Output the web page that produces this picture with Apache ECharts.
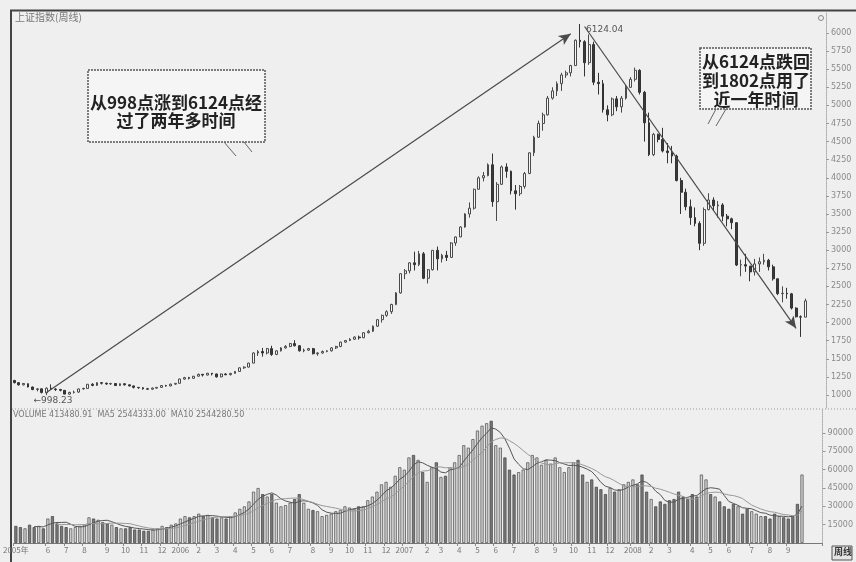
<!DOCTYPE html>
<html><head><meta charset="utf-8">
<script src="https://cdn.jsdelivr.net/npm/echarts@6/dist/echarts.min.js"></script>
<style>html,body{margin:0;padding:0;background:#efefef}#c{width:856px;height:562px}</style>
</head><body><div id="c"></div>
<script>
// ---- week categories (Monday of each trading week) ----
const weeks2005 = ['04-11','04-18','04-25','05-09','05-16','05-23','05-30','06-06','06-13','06-20','06-27','07-04','07-11','07-18','07-25','08-01','08-08','08-15','08-22','08-29','09-05','09-12','09-19','09-26','10-10','10-17','10-24','10-31','11-07','11-14','11-21','11-28','12-05','12-12','12-19','12-26'];
const weeks2006 = ['01-02','01-09','01-16','01-23','02-06','02-13','02-20','02-27','03-06','03-13','03-20','03-27','04-03','04-10','04-17','04-24','05-08','05-15','05-22','05-29','06-05','06-12','06-19','06-26','07-03','07-10','07-17','07-24','07-31','08-07','08-14','08-21','08-28','09-04','09-11','09-18','09-25','10-09','10-16','10-23','10-30','11-06','11-13','11-20','11-27','12-04','12-11','12-18','12-25'];
const weeks2007 = ['01-01','01-08','01-15','01-22','01-29','02-05','02-12','02-26','03-05','03-12','03-19','03-26','04-02','04-09','04-16','04-23','05-07','05-14','05-21','05-28','06-04','06-11','06-18','06-25','07-02','07-09','07-16','07-23','07-30','08-06','08-13','08-20','08-27','09-03','09-10','09-17','09-24','10-08','10-15','10-22','10-29','11-05','11-12','11-19','11-26','12-03','12-10','12-17','12-24','12-31'];
const weeks2008 = ['01-07','01-14','01-21','01-28','02-04','02-11','02-18','02-25','03-03','03-10','03-17','03-24','03-31','04-07','04-14','04-21','04-28','05-05','05-12','05-19','05-26','06-02','06-09','06-16','06-23','06-30','07-07','07-14','07-21','07-28','08-04','08-11','08-18','08-25','09-01','09-08','09-15','09-22'];

// ---- weekly candles [open, close, low, high] ----
const k2005 = [[1200,1170,1160,1210],[1170,1140,1130,1178],[1140,1159,1131,1165],[1155,1110,1105,1160],[1110,1075,1066,1115],[1075,1085,1050,1093],[1085,1035,1020,1090],[1030,1093,998,1105],[1093,1082,1070,1146],[1082,1075,1055,1095],[1075,1064,1050,1085],[1064,1012,1010,1068],[1012,1035,1004,1045],[1035,1040,1020,1060],[1040,1083,1030,1088],[1083,1090,1075,1100],[1090,1148,1088,1150],[1148,1132,1120,1163],[1132,1170,1125,1175],[1170,1162,1145,1178],[1162,1152,1140,1170],[1152,1158,1140,1168],[1158,1130,1124,1165],[1130,1155,1125,1158],[1155,1140,1130,1162],[1140,1125,1118,1145],[1125,1105,1090,1130],[1105,1100,1085,1110],[1100,1085,1074,1108],[1085,1080,1075,1098],[1080,1095,1072,1102],[1095,1105,1085,1110],[1105,1130,1100,1135],[1130,1125,1115,1140],[1125,1150,1120,1155],[1150,1161,1140,1165]];
const k2006 = [[1161,1220,1160,1225],[1220,1240,1210,1250],[1240,1230,1215,1250],[1230,1259,1225,1262],[1259,1285,1255,1296],[1285,1275,1255,1290],[1275,1300,1270,1305],[1300,1290,1270,1302],[1290,1250,1240,1295],[1250,1290,1245,1295],[1290,1280,1272,1300],[1280,1298,1270,1305],[1298,1325,1295,1330],[1325,1375,1320,1380],[1375,1385,1360,1395],[1385,1440,1380,1445],[1440,1580,1440,1590],[1580,1600,1540,1620],[1600,1580,1530,1650],[1580,1640,1560,1650],[1640,1560,1540,1680],[1560,1610,1550,1615],[1610,1650,1600,1660],[1650,1670,1640,1690],[1670,1710,1660,1720],[1710,1680,1670,1757],[1680,1610,1600,1690],[1610,1620,1590,1640],[1620,1640,1610,1650],[1640,1570,1560,1650],[1570,1580,1542,1590],[1580,1600,1570,1615],[1600,1610,1590,1620],[1610,1650,1600,1660],[1650,1670,1635,1680],[1670,1730,1660,1735],[1730,1752,1720,1760],[1752,1770,1745,1785],[1770,1800,1760,1810],[1800,1790,1765,1820],[1790,1860,1785,1870],[1860,1880,1850,1900],[1880,1950,1870,1960],[1950,2040,1940,2050],[2040,2100,2000,2110],[2100,2150,2080,2170],[2150,2250,2120,2260],[2250,2410,2240,2420],[2410,2675,2400,2680]];
const k2007 = [[2675,2715,2600,2740],[2715,2825,2680,2835],[2825,2800,2720,2980],[2800,2950,2780,2990],[2950,2612,2600,2975],[2612,2730,2540,2740],[2730,2998,2720,3000],[2998,2881,2720,3050],[2881,2930,2830,2950],[2930,2900,2850,2990],[2900,3100,2900,3110],[3100,3183,3060,3190],[3183,3320,3180,3330],[3320,3500,3310,3510],[3500,3580,3450,3660],[3580,3841,3560,3850],[3841,4000,3840,4020],[4000,4030,3950,4080],[4030,4180,4020,4200],[4180,3670,3600,4335],[3670,3910,3404,3940],[3910,4150,3900,4170],[4150,4090,4000,4200],[4090,3820,3770,4100],[3820,3780,3560,3900],[3780,3880,3750,3900],[3880,4060,3850,4080],[4060,4345,4050,4350],[4345,4560,4300,4580],[4560,4750,4550,4790],[4750,4870,4650,4900],[4870,5100,4860,5130],[5100,5200,5080,5250],[5200,5300,5130,5330],[5300,5420,5200,5450],[5420,5450,5380,5480],[5450,5550,5400,5560],[5550,5900,5550,5910],[5900,5880,5800,6124],[5880,5590,5400,5900],[5590,5840,5560,5980],[5840,5320,5280,5880],[5320,5300,5150,5450],[5300,4940,4900,5350],[4940,4870,4780,5000],[4870,5090,4850,5110],[5090,4980,4920,5130],[4980,5100,4900,5130],[5100,5250,5080,5280],[5250,5360,5240,5390]];
const k2008 = [[5360,5484,5330,5522],[5484,5180,5150,5500],[5180,4760,4500,5200],[4760,4320,4300,4900],[4320,4600,4300,4620],[4600,4530,4490,4610],[4530,4370,4350,4690],[4370,4348,4200,4480],[4348,4300,4200,4440],[4300,3962,3950,4320],[3962,3800,3500,4000],[3800,3600,3550,3850],[3600,3450,3350,3700],[3450,3370,3330,3590],[3370,3095,3000,3400],[3095,3560,3060,3590],[3560,3693,3550,3786],[3693,3613,3550,3730],[3613,3625,3450,3680],[3625,3470,3400,3650],[3470,3433,3330,3500],[3433,3380,3290,3450],[3380,2795,2780,3380],[2795,2800,2640,2870],[2800,2780,2700,2950],[2780,2700,2570,2780],[2700,2810,2650,2880],[2810,2840,2700,2900],[2840,2860,2800,2950],[2860,2770,2720,2880],[2770,2605,2580,2800],[2605,2400,2380,2610],[2400,2405,2280,2500],[2405,2397,2330,2480],[2397,2200,2180,2410],[2200,2080,2070,2210],[2080,2075,1802,2100],[2075,2300,2075,2330]];

// ---- weekly volume ----
const v2005 = [14000,13000,12000,15000,13000,14000,12000,20000,22000,16000,14000,13000,12000,13000,14000,15000,21000,20000,19000,17000,16000,15000,13000,12000,12000,13000,11000,11000,10000,10000,11000,12000,14000,13000,15000,16000];
const v2006 = [20000,22000,21000,22000,24000,22000,23000,21000,20000,21000,20000,22000,25000,28000,30000,34000,42000,45000,40000,38000,40000,33000,30000,31000,33000,36000,40000,33000,28000,27000,26000,22000,23000,24000,26000,27000,30000,29000,28000,30000,30000,35000,38000,42000,48000,50000,46000,55000,62000];
const v2007 = [60000,70000,72000,68000,58000,50000,62000,66000,54000,55000,62000,66000,72000,80000,78000,85000,92000,96000,98000,100000,80000,78000,70000,60000,56000,58000,60000,66000,72000,70000,64000,68000,65000,70000,62000,58000,62000,66000,68000,56000,50000,52000,46000,44000,40000,45000,42000,44000,48000,50000];
const v2008 = [52000,48000,56000,42000,36000,30000,34000,32000,35000,36000,42000,38000,36000,40000,38000,56000,52000,40000,38000,34000,30000,28000,32000,30000,24000,28000,26000,24000,22000,22000,20000,24000,22000,21000,20000,22000,32000,56000];

// ---- axis tick labels ----
const priceTicks = [1000,1250,1500,1750,2000,2250,2500,2750,3000,3250,3500,3750,4000,4250,4500,4750,5000,5250,5500,5750,6000];
const volTicks = [15000,30000,45000,60000,75000,90000];
const padWeeks = ['','','',''];

const cats = [].concat(
  weeks2005.map(d => '2005-' + d), weeks2006.map(d => '2006-' + d),
  weeks2007.map(d => '2007-' + d), weeks2008.map(d => '2008-' + d), padWeeks);
const kData = [].concat(k2005, k2006, k2007, k2008);
const vRaw = [].concat(v2005, v2006, v2007, v2008);
const volData = vRaw.map((v, i) => ({
  value: v,
  itemStyle: kData[i][1] >= kData[i][0]
    ? { color: '#d2d2d2', borderColor: '#5a5a5a', borderWidth: 0.8 }
    : { color: '#7a7a7a', borderColor: '#4a4a4a', borderWidth: 0.8 }
}));
function ma(n) {
  return vRaw.map((v, i) => {
    if (i < n - 1) return '-';
    let s = 0; for (let j = i - n + 1; j <= i; j++) s += vRaw[j];
    return Math.round(s / n);
  });
}

function showMonth(idx) {
  const c = cats[idx];
  if (!c) return false;
  if (idx === 0) return true;
  const p = cats[idx - 1];
  return c.slice(5, 7) !== p.slice(5, 7) && idx > 3;
}
function fmtMonth(val, idx) {
  if (idx === 0) return '2005年';
  const m = parseInt(val.slice(5, 7), 10);
  return m === 1 ? val.slice(0, 4) : String(m);
}
const plain = v => String(v);

const chart = echarts.init(document.getElementById('c'), null, { renderer: 'canvas' });
const F = '"Noto Sans CJK SC", "Noto Sans", sans-serif';
const axisGray = '#8a8a8a';
chart.setOption({
  backgroundColor: '#efefef',
  animation: false,
  grid: [
    { left: 12, right: 30, top: 12, height: 396 },
    { left: 12, right: 30, top: 410, height: 133 }
  ],
  xAxis: [
    { type: 'category', data: cats, gridIndex: 0, boundaryGap: true,
      axisLine: { show: false }, axisTick: { show: false }, axisLabel: { show: false }, splitLine: { show: false } },
    { type: 'category', data: cats, gridIndex: 1, boundaryGap: true,
      axisLine: { show: true, lineStyle: { color: '#777', width: 1 } },
      axisTick: { show: true, interval: showMonth, length: 3, lineStyle: { color: '#888' } },
      axisLabel: { show: true, interval: showMonth, formatter: fmtMonth, fontSize: 8, color: '#777', margin: 3, fontFamily: F } }
  ],
  yAxis: [
    { type: 'value', gridIndex: 0, position: 'right', min: 820, max: 6290,
      axisLine: { show: true, lineStyle: { color: '#aaa', type: 'dotted' } },
      axisTick: { show: true, customValues: priceTicks, length: 3, lineStyle: { color: '#999' } },
      axisLabel: { customValues: priceTicks, formatter: plain, fontSize: 8, color: axisGray, margin: 5, fontFamily: 'DejaVu Sans' },
      splitLine: { show: false } },
    { type: 'value', gridIndex: 1, position: 'right', min: 0, max: 108800,
      axisLine: { show: true, lineStyle: { color: '#aaa', type: 'dotted' } },
      axisTick: { show: true, customValues: volTicks, length: 3, lineStyle: { color: '#999' } },
      axisLabel: { customValues: volTicks, formatter: plain, fontSize: 8, color: axisGray, margin: 5, fontFamily: 'DejaVu Sans' },
      splitLine: { show: false } }
  ],
  series: [
    { type: 'candlestick', name: 'K', xAxisIndex: 0, yAxisIndex: 0, data: kData, barMaxWidth: 3.4,
      itemStyle: { color: '#f6f6f6', color0: '#3a3a3a', borderColor: '#4a4a4a', borderColor0: '#333', borderWidth: 1 },
      markPoint: {
        symbol: 'circle', symbolSize: 0, silent: true,
        data: [
          { coord: [123, 6124], label: { show: true, formatter: '6124.04', position: 'right', offset: [1, 6], fontSize: 9, color: '#555', fontFamily: 'DejaVu Sans' } },
          { coord: [7, 998], label: { show: true, formatter: '←998.23', position: 'right', offset: [-18, 6], fontSize: 9, color: '#555', fontFamily: 'DejaVu Sans' } }
        ]
      },
      markLine: {
        silent: true, symbol: ['none', 'arrow'], symbolSize: [8, 12],
        lineStyle: { color: '#4a4a4a', width: 1.2, type: 'solid' },
        label: { show: false },
        data: [
          [{ coord: [7, 1035] }, { coord: [121, 5990] }],
          [{ coord: [124, 6090] }, { coord: [170, 1920] }]
        ]
      }
    },
    { type: 'bar', name: 'VOL', xAxisIndex: 1, yAxisIndex: 1, data: volData, barMaxWidth: 3.4 },
    { type: 'line', name: 'MA5', xAxisIndex: 1, yAxisIndex: 1, data: ma(5), symbol: 'none', lineStyle: { color: '#555', width: 1 } },
    { type: 'line', name: 'MA10', xAxisIndex: 1, yAxisIndex: 1, data: ma(10), symbol: 'none', lineStyle: { color: '#999', width: 1 } }
  ],
  graphic: [
    { type: 'line', shape: { x1: 10, y1: 10.5, x2: 856, y2: 10.5 }, style: { stroke: '#444', lineWidth: 2 } },
    { type: 'line', shape: { x1: 11, y1: 10, x2: 11, y2: 562 }, style: { stroke: '#444', lineWidth: 2 } },
    { type: 'line', shape: { x1: 12, y1: 409, x2: 856, y2: 409 }, style: { stroke: '#999', lineWidth: 1, lineDash: [1, 2] } },
    { type: 'text', left: 15, top: 12, style: { text: '上证指数(周线)', font: '10px ' + F, fill: '#777' } },
    { type: 'text', left: 13, top: 411, style: { text: 'VOLUME 413480.91  MA5 2544333.00  MA10 2544280.50', font: '8px DejaVu Sans', fill: '#777' } },
    { type: 'circle', shape: { cx: 821, cy: 18, r: 2.5 }, style: { fill: 'none', stroke: '#888', lineWidth: 1 } },
    { type: 'rect', shape: { x: 832, y: 546, width: 20, height: 14 }, style: { fill: '#e4e4e4', stroke: '#555', lineWidth: 1 } },
    { type: 'text', left: 834, top: 547, style: { text: '周线', font: 'bold 9px ' + F, fill: '#333' } },
    { type: 'rect', shape: { x: 88, y: 70, width: 177, height: 72 }, style: { fill: '#f5f5f5', stroke: '#555', lineWidth: 1.5, lineDash: [2, 1] } },
    { type: 'line', shape: { x1: 224, y1: 142, x2: 236, y2: 156 }, style: { stroke: '#666', lineWidth: 1 } },
    { type: 'line', shape: { x1: 244, y1: 142, x2: 252, y2: 152 }, style: { stroke: '#666', lineWidth: 1 } },
    { type: 'text', x: 176, y: 103, style: { text: '从998点涨到6124点经', font: 'bold 17px ' + F, fill: '#222', textAlign: 'center', textVerticalAlign: 'middle' } },
    { type: 'text', x: 176, y: 121, style: { text: '过了两年多时间', font: 'bold 17px ' + F, fill: '#222', textAlign: 'center', textVerticalAlign: 'middle' } },
    { type: 'rect', shape: { x: 700, y: 48, width: 111, height: 61 }, style: { fill: '#f5f5f5', stroke: '#555', lineWidth: 1.5, lineDash: [2, 1] } },
    { type: 'line', shape: { x1: 716, y1: 109, x2: 708, y2: 124 }, style: { stroke: '#666', lineWidth: 1 } },
    { type: 'line', shape: { x1: 726, y1: 109, x2: 716, y2: 126 }, style: { stroke: '#666', lineWidth: 1 } },
    { type: 'text', x: 756, y: 62, style: { text: '从6124点跌回', font: 'bold 17px ' + F, fill: '#222', textAlign: 'center', textVerticalAlign: 'middle' } },
    { type: 'text', x: 756, y: 81, style: { text: '到1802点用了', font: 'bold 17px ' + F, fill: '#222', textAlign: 'center', textVerticalAlign: 'middle' } },
    { type: 'text', x: 756, y: 100, style: { text: '近一年时间', font: 'bold 17px ' + F, fill: '#222', textAlign: 'center', textVerticalAlign: 'middle' } }
  ]
});
</script>
</body></html>
